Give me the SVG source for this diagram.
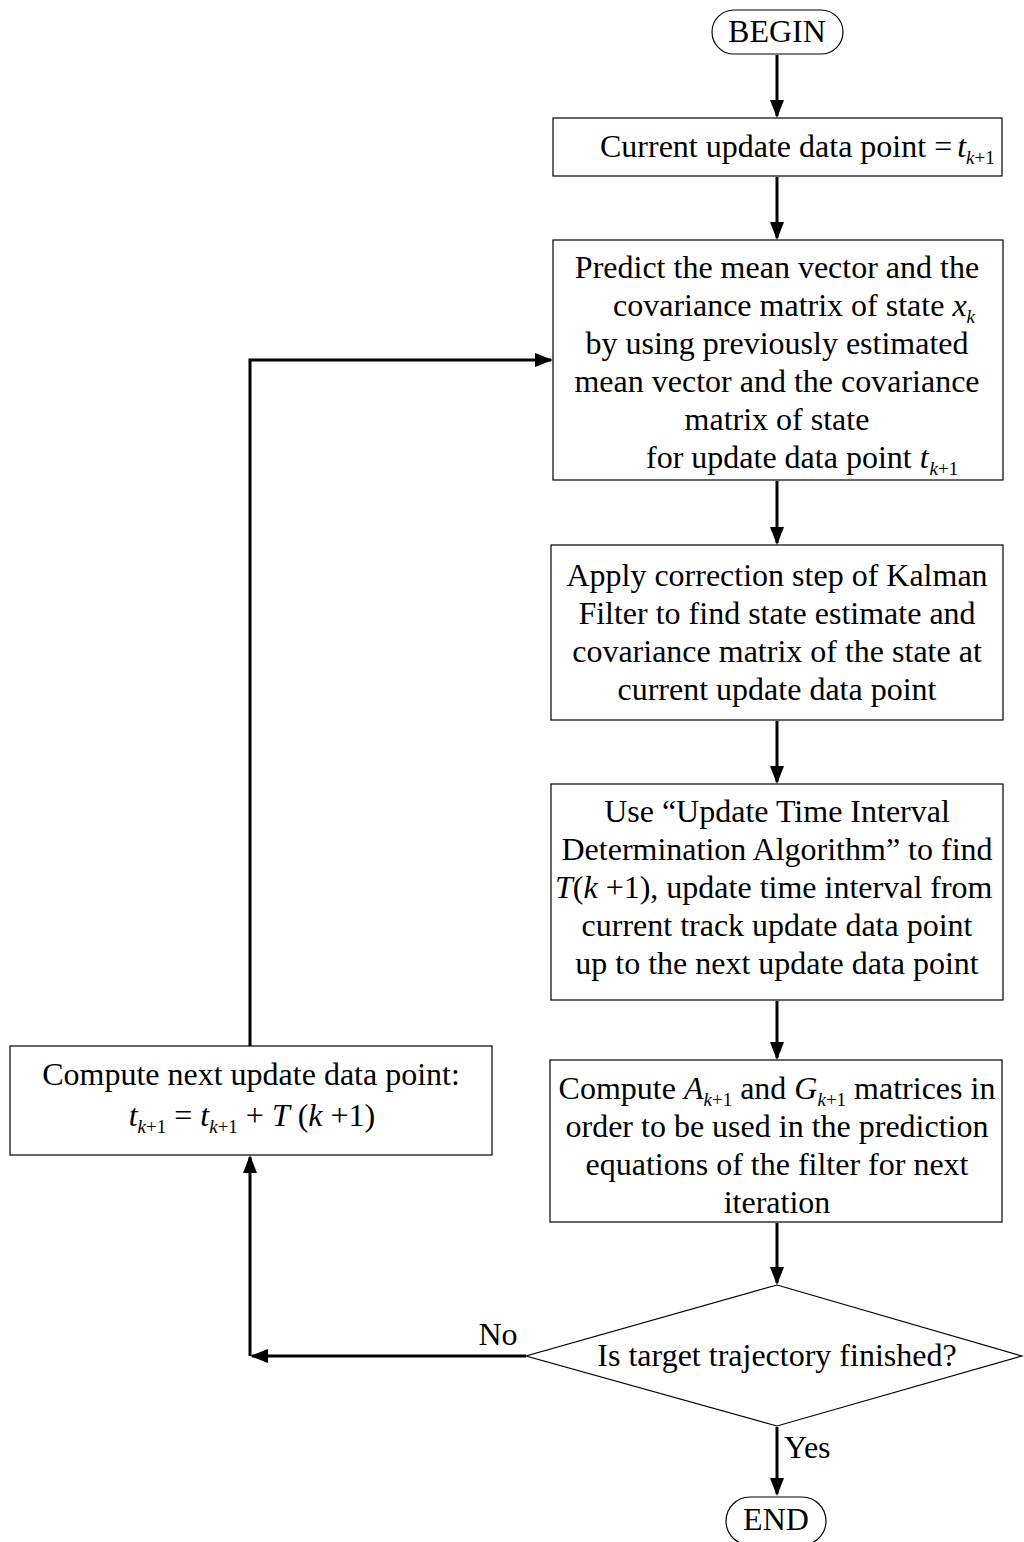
<svg xmlns="http://www.w3.org/2000/svg" width="1024" height="1542" viewBox="0 0 1024 1542">
<style>
.box{fill:#fff;stroke:#000;stroke-width:1.2}
.t{font-family:"Liberation Serif","Times New Roman",serif;font-size:32px;fill:#000}
.c{text-anchor:middle}
.i{font-style:italic}
.s{font-size:19px}
.con{fill:none;stroke:#000;stroke-width:3}
</style>
<defs>
<marker id="ah" viewBox="0 0 18 14" refX="16" refY="7" markerWidth="18" markerHeight="14" markerUnits="userSpaceOnUse" orient="auto">
<path d="M0,0 L18,7 L0,14 z" fill="#000"/>
</marker>
</defs>
<rect width="1024" height="1542" fill="#fff"/>
<g id="connectors">
<line class="con" x1="777" y1="55" x2="777" y2="116" marker-end="url(#ah)"/>
<line class="con" x1="777" y1="177" x2="777" y2="238" marker-end="url(#ah)"/>
<line class="con" x1="777" y1="481" x2="777" y2="543" marker-end="url(#ah)"/>
<line class="con" x1="777" y1="721" x2="777" y2="782" marker-end="url(#ah)"/>
<line class="con" x1="777" y1="1001" x2="777" y2="1058" marker-end="url(#ah)"/>
<line class="con" x1="777" y1="1223" x2="777" y2="1283" marker-end="url(#ah)"/>
<line class="con" x1="777" y1="1427" x2="777" y2="1494" marker-end="url(#ah)"/>
<line class="con" x1="526" y1="1356" x2="252" y2="1356" marker-end="url(#ah)"/>
<line class="con" x1="250" y1="1356" x2="250" y2="1157" marker-end="url(#ah)"/>
<polyline class="con" points="250,1046 250,360 551,360" marker-end="url(#ah)"/>
<text class="t" x="498" y="1345" text-anchor="middle">No</text>
<text class="t" x="784" y="1458">Yes</text>
</g>
<g id="begin">
<rect class="box" x="712" y="10" width="131" height="44" rx="22"/>
<text class="t c" x="777" y="42">BEGIN</text>
</g>
<g id="current">
<rect class="box" x="553" y="118" width="449" height="58"/>
<text class="t" x="600" y="157">Current update data point = <tspan class="i" dx="-3">t</tspan><tspan class="s i" dy="7">k</tspan><tspan class="s">+1</tspan></text>
</g>
<g id="predict">
<rect class="box" x="553" y="240" width="450" height="240"/>
<text class="t c" x="777" y="278">Predict the mean vector and the</text>
<text class="t" x="613" y="316">covariance matrix of state <tspan class="i">x</tspan><tspan class="s i" dy="7">k</tspan></text>
<text class="t c" x="777" y="354">by using previously estimated</text>
<text class="t c" x="777" y="392">mean vector and the covariance</text>
<text class="t c" x="777" y="430">matrix of state</text>
<text class="t" x="646" y="468">for update data point <tspan class="i">t</tspan><tspan class="s i" dy="7" dx="1">k</tspan><tspan class="s">+1</tspan></text>
</g>
<g id="correct">
<rect class="box" x="551" y="545" width="452" height="175"/>
<text class="t c" x="777" y="586">Apply correction step of Kalman</text>
<text class="t c" x="777" y="624">Filter to find state estimate and</text>
<text class="t c" x="777" y="662">covariance matrix of the state at</text>
<text class="t c" x="777" y="700">current update data point</text>
</g>
<g id="interval">
<rect class="box" x="551" y="784" width="452" height="216"/>
<text class="t c" x="777" y="822">Use “Update Time Interval</text>
<text class="t c" x="777" y="860">Determination Algorithm” to find</text>
<text class="t" x="555" y="898"><tspan class="i">T</tspan>(<tspan class="i">k</tspan> +1), update time interval from</text>
<text class="t c" x="777" y="936">current track update data point</text>
<text class="t c" x="777" y="974">up to the next update data point</text>
</g>
<g id="matrices">
<rect class="box" x="550" y="1060" width="452" height="162"/>
<text class="t c" x="777" y="1099">Compute <tspan class="i">A</tspan><tspan class="s i" dy="7">k</tspan><tspan class="s">+1</tspan><tspan dy="-7"> and </tspan><tspan class="i">G</tspan><tspan class="s i" dy="7">k</tspan><tspan class="s">+1</tspan><tspan dy="-7"> matrices in</tspan></text>
<text class="t c" x="777" y="1137">order to be used in the  prediction</text>
<text class="t c" x="777" y="1175">equations of the filter for next</text>
<text class="t c" x="777" y="1213">iteration</text>
</g>
<g id="nextpoint">
<rect class="box" x="10" y="1046" width="482" height="109"/>
<text class="t c" x="251" y="1085">Compute next update data point:</text>
<text class="t c" x="252" y="1126"><tspan class="i">t</tspan><tspan class="s i" dy="7">k</tspan><tspan class="s">+1</tspan><tspan dy="-7"> = </tspan><tspan class="i">t</tspan><tspan class="s i" dy="7">k</tspan><tspan class="s">+1</tspan><tspan dy="-7"> + </tspan><tspan class="i">T</tspan> (<tspan class="i">k</tspan> +1)</text>
</g>
<g id="decision">
<polygon class="box" points="777,1285 1022,1356 777,1426 526,1356"/>
<text class="t c" x="777" y="1366">Is target trajectory finished?</text>
</g>
<g id="end">
<rect class="box" x="726" y="1497" width="100" height="48" rx="24"/>
<text class="t c" x="776" y="1530">END</text>
</g>
</svg>
